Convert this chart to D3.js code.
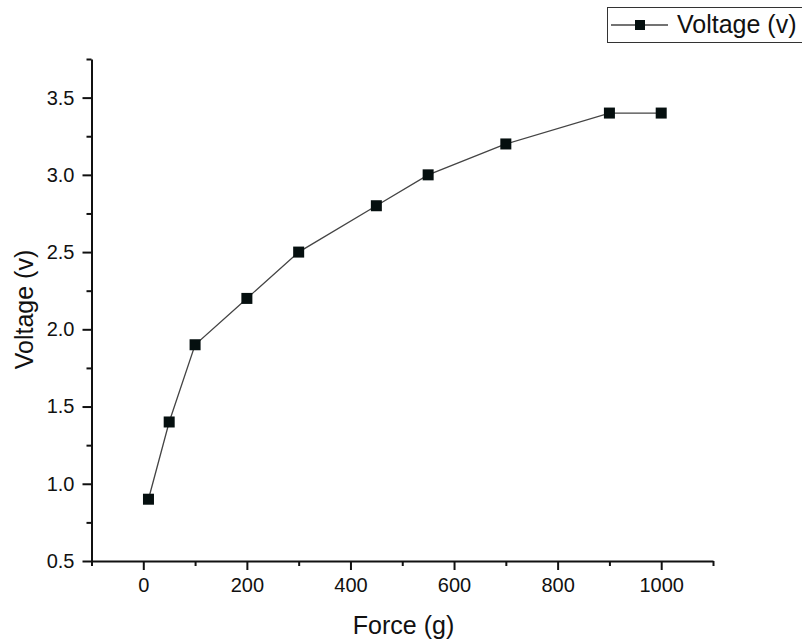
<!DOCTYPE html>
<html><head><meta charset="utf-8">
<script src="https://cdn.jsdelivr.net/npm/d3@7"></script>
<style>body{margin:0;background:#fff;} text{font-family:"Liberation Sans",Arial,sans-serif;}</style>
</head><body>
<svg id="c" width="802" height="643"></svg>
<script>
const force = [10, 50, 100, 200, 300, 450, 550, 700, 900, 1000];
const voltage = [0.9, 1.4, 1.9, 2.2, 2.5, 2.8, 3.0, 3.2, 3.4, 3.4];
const xTicks = [0, 200, 400, 600, 800, 1000];
const yTicks = [0.5, 1.0, 1.5, 2.0, 2.5, 3.0, 3.5];
const seriesName = "Voltage (v)";
const xTitle = "Force (g)";
const yTitle = "Voltage (v)";

const svg = d3.select("#c");
const x = d3.scaleLinear().domain([-100, 1100]).range([91.5, 713]);
const y = d3.scaleLinear().domain([0.5, 3.75]).range([561, 59]);
const ink = "#111";

const xMinor = d3.range(-100, 1101, 200);
const yMinor = d3.range(0.75, 3.76, 0.5);

const xg = svg.append("g").attr("transform", "translate(0,561)");
xg.call(d3.axisBottom(x).tickValues(xTicks).tickSize(9).tickSizeOuter(0).tickPadding(8).tickFormat(d3.format("d")));
xg.append("g").call(d3.axisBottom(x).tickValues(xMinor).tickSize(5).tickFormat(""))
  .select(".domain").remove();
const yg = svg.append("g").attr("transform", "translate(91.5,0)");
yg.call(d3.axisLeft(y).tickValues(yTicks).tickSize(9).tickSizeOuter(0).tickPadding(8).tickFormat(d3.format(".1f")));
yg.append("g").call(d3.axisLeft(y).tickValues(yMinor).tickSize(5).tickFormat(""))
  .select(".domain").remove();

svg.selectAll(".domain").attr("stroke", ink).attr("stroke-width", 2);
svg.selectAll(".tick line").attr("stroke", ink).attr("stroke-width", 2);
svg.selectAll("g").attr("font-size", null).attr("font-family", null);
svg.selectAll(".tick text").attr("fill", "#111").style("font-size", "20px");

// axis titles
svg.append("text").attr("x", 403.5).attr("y", 634).attr("text-anchor", "middle")
  .style("font-size", "25px").attr("fill", "#111").text(xTitle);
svg.append("text").attr("transform", `translate(33,309.5) rotate(-90)`).attr("text-anchor", "middle")
  .style("font-size", "25px").attr("fill", "#111").text(yTitle);

// line
const pts = force.map((f, i) => [f, voltage[i]]);
svg.append("path").datum(pts)
  .attr("d", d3.line().x(d => x(d[0])).y(d => y(d[1])))
  .attr("fill", "none").attr("stroke", "#444").attr("stroke-width", 1.3);
svg.selectAll("rect.pt").data(pts).join("rect").attr("class", "pt")
  .attr("x", d => x(d[0]) - 5.5).attr("y", d => y(d[1]) - 5.5)
  .attr("width", 11).attr("height", 11).attr("fill", "#050f0f");

// legend
const lg = svg.append("g");
lg.append("rect").attr("x", 607.5).attr("y", 7.5).attr("width", 195).attr("height", 35)
  .attr("fill", "#fff").attr("stroke", "#333").attr("stroke-width", 1);
lg.append("line").attr("x1", 611).attr("x2", 668).attr("y1", 25).attr("y2", 25)
  .attr("stroke", "#444").attr("stroke-width", 1.3);
lg.append("rect").attr("x", 635).attr("y", 20).attr("width", 10).attr("height", 10).attr("fill", "#050f0f");
lg.append("text").attr("x", 677).attr("y", 33).style("font-size", "25px").attr("fill", "#111").text(seriesName);
</script>
</body></html>
